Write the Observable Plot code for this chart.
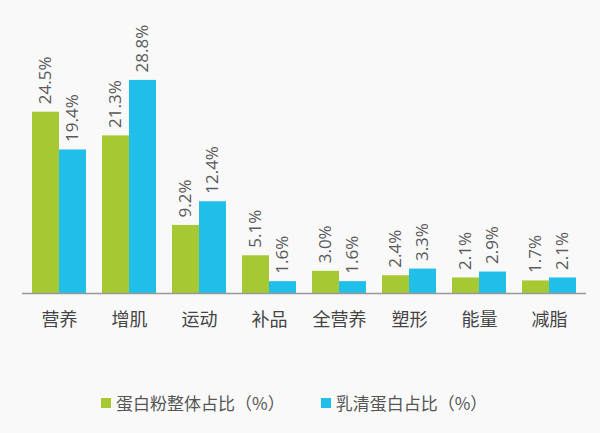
<!DOCTYPE html>
<html>
<head>
<meta charset="utf-8">
<script src="https://cdn.jsdelivr.net/npm/d3@7"></script>
<script src="https://cdn.jsdelivr.net/npm/@observablehq/plot@0.6"></script>
<style>
  html, body { margin: 0; padding: 0; background: #f9f9f9; }
  #chart { width: 600px; height: 433px; position: relative; font-family: "Noto Sans CJK SC", "Noto Sans", sans-serif; }
  .legend { position: absolute; left: 101px; top: 390px; display: flex; align-items: center; font-size: 17px; color: #555; font-family: "Noto Sans CJK SC", sans-serif; }
  .legend .item { display: flex; align-items: center; }
  .legend .item + .item { margin-left: 36px; }
  .legend .sw { width: 10px; height: 10px; margin-right: 5px; }
</style>
</head>
<body>
<div id="chart"></div>
<script>
const categories = ["营养", "增肌", "运动", "补品", "全营养", "塑形", "能量", "减脂"];
const seriesNames = ["蛋白粉整体占比（%）", "乳清蛋白占比（%）"];
const proteinPowder = [24.5, 21.3, 9.2, 5.1, 3.0, 2.4, 2.1, 1.7];
const wheyProtein = [19.4, 28.8, 12.4, 1.6, 1.6, 3.3, 2.9, 2.1];
const colors = ["#a6c832", "#1fbfea"];

const data = categories.map((c, i) => ({cat: c, a: proteinPowder[i], b: wheyProtein[i]}));

const W = 600, mL = 22, mR = 14;
const pIn = 0.234, pOut = 0.117;
const step = (W - mL - mR) / (categories.length - pIn + 2 * pOut);
const half = step * (1 - pIn) / 2;

const labelFont = {fontSize: 17, fill: "#5a5a5a", fontFamily: "'Open Sans', 'Noto Sans', sans-serif", rotate: -90, textAnchor: "start"};

const plot = Plot.plot({
  width: W,
  height: 340,
  marginLeft: mL,
  marginRight: mR,
  marginTop: 20,
  marginBottom: 47,
  style: {background: "transparent", fontFamily: "'Noto Sans CJK SC', sans-serif"},
  x: {domain: categories, paddingInner: pIn, paddingOuter: pOut, label: null, tickSize: 0, tickPadding: 20},
  y: {domain: [0, 36.9], axis: null},
  marks: [
    Plot.barY(data, {x: "cat", y: "a", fill: colors[0], insetLeft: 0, insetRight: half}),
    Plot.barY(data, {x: "cat", y: "b", fill: colors[1], insetLeft: half, insetRight: 0}),
    Plot.ruleY([0], {stroke: "#999", strokeWidth: 1.5}),
    Plot.text(data, {x: "cat", y: "a", text: d => d.a.toFixed(1) + "%", dx: -half / 2, dy: -8, ...labelFont}),
    Plot.text(data, {x: "cat", y: "b", text: d => d.b.toFixed(1) + "%", dx: half / 2, dy: -8, ...labelFont})
  ]
});
plot.style.fontSize = "18px";
d3.select(plot).selectAll("g[aria-label='x-axis tick label'] text, g[aria-label='x-axis'] text").attr("fill", "#444");
document.getElementById("chart").appendChild(plot);

const legend = document.createElement("div");
legend.className = "legend";
seriesNames.forEach((name, i) => {
  const item = document.createElement("div");
  item.className = "item";
  const sw = document.createElement("div");
  sw.className = "sw";
  sw.style.background = colors[i];
  const t = document.createElement("span");
  t.textContent = name;
  item.appendChild(sw);
  item.appendChild(t);
  legend.appendChild(item);
});
document.getElementById("chart").appendChild(legend);
</script>
</body>
</html>
